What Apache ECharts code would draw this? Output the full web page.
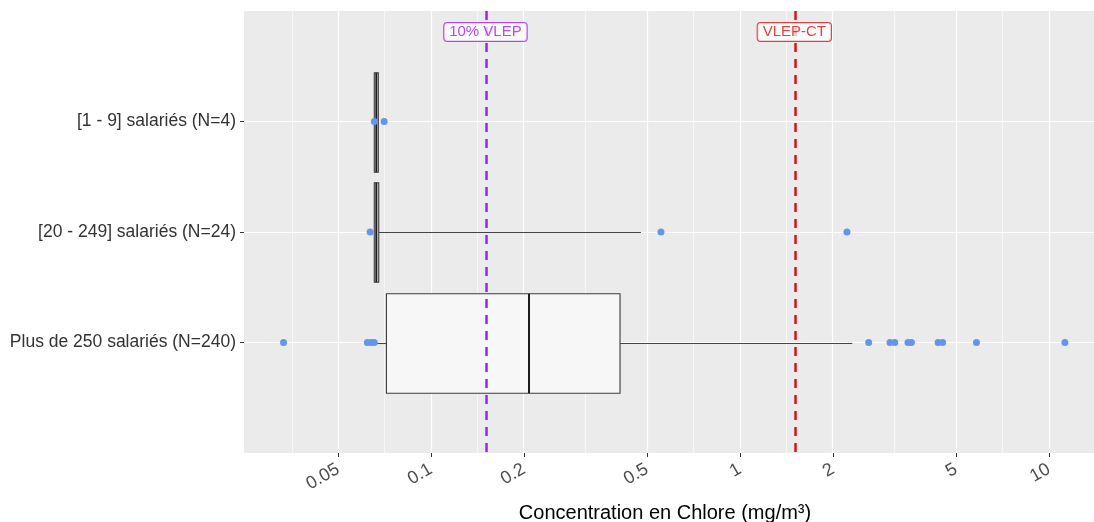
<!DOCTYPE html>
<html>
<head>
<meta charset="utf-8">
<script src="https://cdn.jsdelivr.net/npm/echarts@6/dist/echarts.min.js"></script>
<style>html,body{margin:0;padding:0;background:#fff}#c{width:1094px;height:522px}</style>
</head>
<body>
<div id="c"></div>
<script>
// ---- data (mg/m³) ----
const categories = ['[1 - 9] salariés (N=4)', '[20 - 249] salariés (N=24)', 'Plus de 250 salariés (N=240)'];
const whiskerLow  = [0.0655, 0.0655, 0.0664];
const q1Values    = [0.0655, 0.0655, 0.0717];
const medians     = [0.0665, 0.0665, 0.2075];
const q3Values    = [0.0675, 0.0677, 0.409];
const whiskerHigh = [0.0675, 0.478, 2.31];
const outliers1 = [0.0655, 0.0705];
const outliers2 = [0.0635, 0.555, 2.22];
const outliers3 = [0.0333, 0.0622, 0.064, 0.0655, 2.61, 3.06, 3.17, 3.50, 3.59, 4.38, 4.53, 5.83, 11.27];
const refValues = [0.15, 1.5];
const refLabels = ['10% VLEP', 'VLEP-CT'];
const tickValues = [0.05, 0.1, 0.2, 0.5, 1, 2, 5, 10];
const tickLabels = ['0.05', '0.1', '0.2', '0.5', '1', '2', '5', '10'];
const minorBreaks = [0.03536, 0.0707, 0.1414, 0.3162, 0.7071, 1.414, 3.162, 7.071];
const xRange = [0.0248, 14.0];

// ---- build ----
const L = Math.log10;
const refColors = ['#A020F0', '#CD1A1A'];
const yData = [''].concat(categories, ['']);
const inner = (i) => i > 0 && i < yData.length - 1;
const majorLog = tickValues.map(L);
const boxData = categories.map((c, i) => [i + 1, L(whiskerLow[i]), L(q1Values[i]), L(medians[i]), L(q3Values[i]), L(whiskerHigh[i])]);
const pointData = [];
[outliers1, outliers2, outliers3].forEach((arr, i) => arr.forEach(v => pointData.push([L(v), i + 1])));

const chart = echarts.init(document.getElementById('c'), null, {renderer: 'canvas'});
const FONT = 'Liberation Sans, Arial, sans-serif';
chart.setOption({
  animation: false,
  backgroundColor: '#ffffff',
  textStyle: {fontFamily: FONT},
  title: {
    text: 'Concentration en Chlore (mg/m³)',
    left: 660, top: 498, textAlign: 'center',
    textStyle: {fontFamily: FONT, fontSize: 20, fontWeight: 'normal', color: '#000'}
  },
  grid: {left: 244, right: 0, top: 11, bottom: 69, show: true, backgroundColor: '#EBEBEB', borderWidth: 0, containLabel: false},
  xAxis: {
    type: 'value', min: L(xRange[0]), max: L(xRange[1]),
    axisLine: {show: false, onZero: false},
    splitLine: {show: false},
    axisTick: {show: true, length: 4, customValues: majorLog, lineStyle: {color: '#333', width: 1}},
    axisLabel: {
      customValues: majorLog, rotate: 30, margin: 15, fontSize: 18, color: '#4D4D4D', fontFamily: FONT,
      formatter: (v) => {
        let best = 0, d = 1e9;
        majorLog.forEach((m, i) => { if (Math.abs(m - v) < d) { d = Math.abs(m - v); best = i; } });
        return tickLabels[best];
      }
    }
  },
  yAxis: {
    type: 'category', inverse: true, boundaryGap: false, data: yData,
    axisLine: {show: false, onZero: false},
    axisTick: {show: true, length: 4, interval: inner, lineStyle: {color: '#333', width: 1}},
    axisLabel: {interval: inner, margin: 8, fontSize: 17.5, color: '#333', fontFamily: FONT},
    splitLine: {show: true, interval: inner, lineStyle: {color: '#ffffff', width: 1.2}}
  },
  series: [
    {
      name: 'grid', type: 'scatter', z: 1, silent: true,
      data: [],
      markLine: {
        silent: true, z: 1, symbol: ['none', 'none'], label: {show: false},
        lineStyle: {color: '#ffffff', type: 'solid', width: 1.2},
        data: majorLog.map(v => ({xAxis: v})).concat(
          minorBreaks.map(v => ({xAxis: L(v), lineStyle: {color: '#ffffff', type: 'solid', width: 0.6}})))
      }
    },
    {
      name: 'box', type: 'custom', z: 3,
      encode: {x: [1, 2, 3, 4, 5], y: 0},
      data: boxData,
      renderItem: function (params, api) {
        const c = api.value(0);
        const lo = api.coord([api.value(1), c]);
        const q1 = api.coord([api.value(2), c]);
        const md = api.coord([api.value(3), c]);
        const q3 = api.coord([api.value(4), c]);
        const hi = api.coord([api.value(5), c]);
        const h = api.size([0, 1])[1] * 0.45;
        const y = Math.round(q1[1]) + 0.5;
        return {
          type: 'group',
          children: [
            {type: 'line', shape: {x1: lo[0], y1: y, x2: q1[0], y2: y}, style: {stroke: '#444', lineWidth: 1.1}},
            {type: 'line', shape: {x1: q3[0], y1: y, x2: hi[0], y2: y}, style: {stroke: '#444', lineWidth: 1.1}},
            {type: 'rect', shape: {x: q1[0], y: y - h, width: Math.max(q3[0] - q1[0], 0.5), height: 2 * h}, style: {fill: '#F7F7F7', stroke: '#3C3C3C', lineWidth: 1.1}},
            {type: 'line', shape: {x1: md[0], y1: y - h, x2: md[0], y2: y + h}, style: {stroke: '#1A1A1A', lineWidth: 2}}
          ]
        };
      }
    },
    {
      name: 'points', type: 'scatter', z: 4,
      data: pointData, symbol: 'circle', symbolSize: 7,
      itemStyle: {color: '#6495ED', opacity: 1}
    },
    {
      name: 'refs', type: 'scatter', z: 5, silent: true,
      data: [],
      markLine: {
        silent: true, z: 5, symbol: ['none', 'none'], label: {show: false},
        data: refValues.map((v, i) => ({xAxis: L(v), lineStyle: {color: refColors[i], type: [9, 7], width: 2.5}}))
      }
    },
    {
      name: 'refLabels', type: 'scatter', z: 6, silent: true,
      data: refValues.map((v, i) => ({
        value: [L(v), 0],
        label: {
          show: true, position: 'inside', offset: [0, 21], formatter: refLabels[i],
          color: refColors[i], fontSize: 15, fontFamily: FONT,
          backgroundColor: 'rgba(255,255,255,0.92)', borderColor: refColors[i], borderWidth: 1, borderRadius: 3,
          padding: [2, 5, 1, 5]
        }
      })),
      symbolSize: 1, itemStyle: {color: 'rgba(0,0,0,0)'}
    }
  ]
});
</script>
</body>
</html>
